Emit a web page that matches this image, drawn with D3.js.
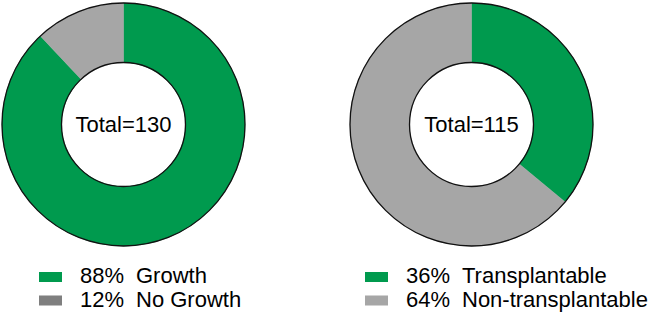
<!DOCTYPE html>
<html>
<head>
<meta charset="utf-8">
<script src="https://cdn.jsdelivr.net/npm/d3@7"></script>
<style>
  html, body { margin: 0; padding: 0; background: #fff; }
  svg { display: block; font-family: "Liberation Sans", Arial, sans-serif; }
</style>
</head>
<body>
<svg id="chart" width="650" height="313"></svg>
<script>
"use strict";

// chart data
const growthLabels   = [ 'Growth', 'No Growth' ];
const growthValues   = [ 88, 12 ];
const growthTotal    = 130;

const transLabels    = [ 'Transplantable', 'Non-transplantable' ];
const transValues    = [ 36, 64 ];
const transTotal     = 115;

const green = '#009A4E';
const donutGrey = '#A6A6A6';

const svg = d3.select( '#chart' );

// one donut per panel
const panels = [
  { cx: 123.5, labels: growthLabels, values: growthValues, total: growthTotal,
    colors: [ green, donutGrey ], legendColors: [ green, '#7F7F7F' ], legendX: 39 },
  { cx: 471.5, labels: transLabels, values: transValues, total: transTotal,
    colors: [ green, donutGrey ], legendColors: [ green, donutGrey ], legendX: 365 },
];

const cy = 124.5;
const outerR = 121.5;
const innerR = 62;

const pie = d3.pie()
              .sort( null )
              .value( (d) => d );

const arc = d3.arc()
              .innerRadius( innerR )
              .outerRadius( outerR );

panels.forEach( (p) => {

  const g = svg.append( 'g' )
               .attr( 'transform', `translate( ${p.cx}, ${cy} )` );

  // segments
  g.selectAll( 'path' )
     .data( pie( p.values ) )
   .enter().append( 'path' )
     .attr( 'd', arc )
     .style( 'fill', (d, i) => p.colors[i] )
     .style( 'stroke', (d, i) => p.colors[i] )
     .style( 'stroke-width', 0.5 );

  // outlines
  [ outerR, innerR ].forEach( (r) => {
    g.append( 'circle' )
     .attr( 'r', r )
     .style( 'fill', 'none' )
     .style( 'stroke', '#111' )
     .style( 'stroke-width', 1.3 );
  });

  // center label
  g.append( 'text' )
   .attr( 'text-anchor', 'middle' )
   .attr( 'y', 7.5 )
   .style( 'font-size', '22px' )
   .style( 'fill', '#000' )
   .text( `Total=${p.total}` );

  // legend
  const rows = [ 283, 306.5 ];
  p.labels.forEach( (lab, i) => {
    svg.append( 'rect' )
       .attr( 'x', p.legendX )
       .attr( 'y', rows[i] - 11 )
       .attr( 'width', 23 )
       .attr( 'height', 10 )
       .style( 'fill', p.legendColors[i] );
    svg.append( 'text' )
       .attr( 'x', p.legendX + 41 )
       .attr( 'y', rows[i] )
       .style( 'font-size', '22px' )
       .text( `${p.values[i]}%` );
    svg.append( 'text' )
       .attr( 'x', p.legendX + 97 )
       .attr( 'y', rows[i] )
       .style( 'font-size', '22px' )
       .text( lab );
  });

});
</script>
</body>
</html>
